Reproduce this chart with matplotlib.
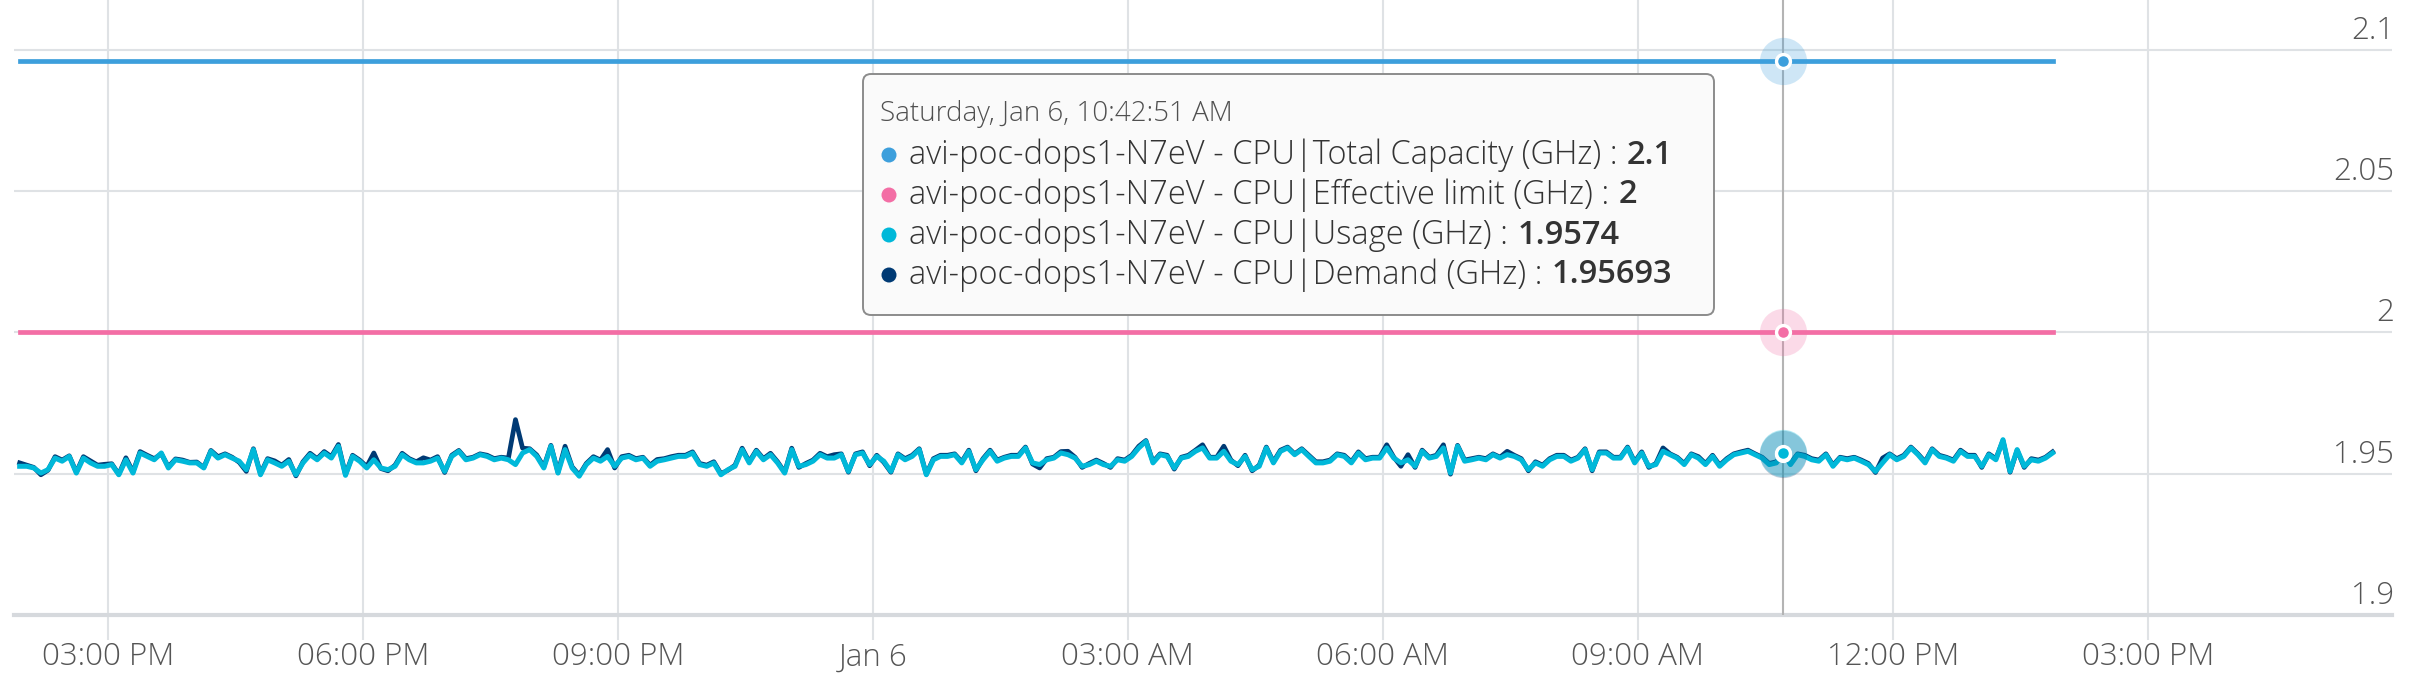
import matplotlib
matplotlib.use("Agg")
import matplotlib.pyplot as plt
import matplotlib.dates as mdates
import matplotlib.transforms as mtransforms
from matplotlib.patches import FancyBboxPatch, Circle
import numpy as np
import pandas as pd

plt.rcParams['font.family'] = ['Open Sans', 'DejaVu Sans']

# ---------------- data ----------------
start_time = "2024-01-05 13:57:51"
n_points = 288
interval = "5min"

usage_ghz = [
    1.9526,1.9526,1.9520,1.9502,1.9514,1.9555,1.9544,1.9561,1.9502,1.9555,1.9538,1.9526,1.9526,1.9532,1.9496,1.9549,1.9502,1.9573,1.9561,1.9549,1.9573,1.9520,1.9549,1.9544,1.9538,1.9538,1.9520,1.9579,1.9555,1.9567,1.9555,1.9544,1.9514,1.9585,1.9496,1.9549,1.9538,1.9526,1.9544,1.9496,1.9538,1.9567,1.9549,1.9573,1.9555,1.9597,1.9494,1.9561,1.9544,1.9520,1.9549,1.9520,1.9514,1.9526,1.9567,1.9549,1.9538,
    1.9538,1.9544,1.9555,1.9508,1.9561,1.9579,1.9549,1.9555,1.9567,1.9561,1.9549,1.9555,1.9549,1.9532,1.9573,1.9585,1.9561,1.9520,1.9597,1.9502,1.9585,1.9520,1.9491,1.9532,1.9555,1.9544,1.9561,1.9526,1.9555,1.9561,1.9549,1.9555,1.9526,1.9544,1.9549,1.9555,1.9561,1.9561,1.9573,1.9532,1.9526,1.9538,1.9496,1.9514,1.9526,1.9585,1.9538,1.9579,1.9549,1.9567,1.9538,1.9502,1.9585,1.9526,1.9532,1.9544,1.9567,1.9555,
    1.9555,1.9567,1.9508,1.9567,1.9573,1.9532,1.9561,1.9544,1.9508,1.9567,1.9549,1.9561,1.9585,1.9496,1.9549,1.9561,1.9561,1.9567,1.9538,1.9579,1.9514,1.9549,1.9579,1.9544,1.9555,1.9561,1.9561,1.9591,1.9538,1.9532,1.9549,1.9555,1.9573,1.9567,1.9555,1.9526,1.9532,1.9544,1.9532,1.9526,1.9549,1.9544,1.9561,1.9591,1.9614,1.9538,1.9567,1.9561,1.9520,1.9555,1.9561,1.9579,1.9591,1.9555,1.9555,1.9579,1.9544,1.9532,
    1.9561,1.9514,1.9526,1.9591,1.9538,1.9579,1.9591,1.9567,1.9585,1.9561,1.9538,1.9538,1.9544,1.9567,1.9561,1.9538,1.9573,1.9549,1.9555,1.9555,1.9591,1.9555,1.9538,1.9549,1.9526,1.9579,1.9555,1.9561,1.9591,1.9502,1.9597,1.9544,1.9549,1.9555,1.9549,1.9567,1.9555,1.9567,1.9561,1.9549,1.9514,1.9538,1.9526,1.9549,1.9561,1.9561,1.9544,1.9555,1.9585,1.9514,1.9573,1.9573,1.9555,1.9555,1.9591,1.9538,1.9573,1.9526,
    1.9532,1.9579,1.9567,1.9555,1.9532,1.9567,1.9555,1.9532,1.9561,1.9526,1.9549,1.9567,1.9573,1.9579,1.9567,1.9555,1.9532,1.9538,1.9574,1.9532,1.9567,1.9561,1.9549,1.9544,1.9567,1.9526,1.9555,1.9549,1.9555,1.9544,1.9532,1.9508,1.9538,1.9567,1.9549,1.9561,1.9591,1.9567,1.9538,1.9585,1.9561,1.9555,1.9544,1.9579,1.9561,1.9561,1.9526,1.9567,1.9549,1.9620,1.9508,1.9585,1.9526,1.9549,1.9544,1.9555,1.9573,
]

demand_ghz = [
    1.9538,1.9530,1.9522,1.9496,1.9512,1.9560,1.9548,1.9563,1.9505,1.9560,1.9545,1.9530,1.9533,1.9535,1.9498,1.9556,1.9506,1.9578,1.9565,1.9553,1.9570,1.9524,1.9552,1.9548,1.9540,1.9541,1.9522,1.9582,1.9560,1.9570,1.9558,1.9540,1.9508,1.9588,1.9500,1.9553,1.9545,1.9530,1.9550,1.9492,1.9542,1.9572,1.9553,1.9578,1.9560,1.9603,1.9497,1.9565,1.9548,1.9525,1.9573,1.9518,1.9510,1.9530,1.9572,1.9553,1.9542,
    1.9556,1.9548,1.9560,1.9504,1.9565,1.9582,1.9553,1.9558,1.9570,1.9565,1.9553,1.9558,1.9555,1.9691,1.9590,1.9588,1.9566,1.9524,1.9600,1.9505,1.9597,1.9524,1.9495,1.9536,1.9560,1.9548,1.9585,1.9520,1.9560,1.9565,1.9553,1.9558,1.9530,1.9550,1.9553,1.9560,1.9565,1.9565,1.9577,1.9536,1.9530,1.9542,1.9500,1.9512,1.9530,1.9590,1.9542,1.9583,1.9553,1.9572,1.9542,1.9505,1.9590,1.9522,1.9536,1.9548,1.9572,1.9560,
    1.9567,1.9570,1.9505,1.9570,1.9577,1.9528,1.9565,1.9540,1.9505,1.9570,1.9553,1.9565,1.9588,1.9498,1.9553,1.9565,1.9565,1.9570,1.9542,1.9583,1.9510,1.9553,1.9583,1.9548,1.9558,1.9565,1.9565,1.9594,1.9534,1.9520,1.9553,1.9558,1.9578,1.9579,1.9558,1.9522,1.9536,1.9548,1.9536,1.9522,1.9553,1.9548,1.9565,1.9597,1.9617,1.9542,1.9570,1.9565,1.9516,1.9558,1.9565,1.9583,1.9602,1.9558,1.9558,1.9597,1.9548,1.9528,
    1.9565,1.9510,1.9530,1.9594,1.9542,1.9583,1.9594,1.9570,1.9588,1.9565,1.9542,1.9542,1.9548,1.9570,1.9565,1.9542,1.9577,1.9553,1.9558,1.9558,1.9602,1.9558,1.9526,1.9567,1.9522,1.9583,1.9558,1.9565,1.9602,1.9498,1.9600,1.9548,1.9553,1.9558,1.9553,1.9570,1.9558,1.9579,1.9565,1.9553,1.9510,1.9542,1.9530,1.9553,1.9565,1.9565,1.9548,1.9558,1.9588,1.9510,1.9577,1.9577,1.9558,1.9558,1.9594,1.9542,1.9577,1.9522,
    1.9536,1.9591,1.9570,1.9558,1.9536,1.9570,1.9560,1.9536,1.9565,1.9530,1.9553,1.9570,1.9577,1.9583,1.9570,1.9558,1.9536,1.9542,1.95693,1.9536,1.9570,1.9565,1.9553,1.9548,1.9570,1.9530,1.9558,1.9553,1.9558,1.9548,1.9536,1.9504,1.9555,1.9570,1.9553,1.9565,1.9594,1.9570,1.9542,1.9588,1.9565,1.9558,1.9548,1.9583,1.9565,1.9565,1.9522,1.9570,1.9553,1.9617,1.9505,1.9583,1.9522,1.9553,1.9548,1.9558,1.9577,
]

total_capacity_ghz = 2.0958
effective_limit_ghz = 2.0

hover_index = 249
tooltip_header = "Saturday, Jan 6, 10:42:51 AM"
series_names = [
    "avi-poc-dops1-N7eV - CPU|Total Capacity (GHz)",
    "avi-poc-dops1-N7eV - CPU|Effective limit (GHz)",
    "avi-poc-dops1-N7eV - CPU|Usage (GHz)",
    "avi-poc-dops1-N7eV - CPU|Demand (GHz)",
]
tooltip_values = ["2.1", "2", "1.9574", "1.95693"]

y_ticks = [1.9, 1.95, 2.0, 2.05, 2.1]
y_tick_labels = ["1.9", "1.95", "2", "2.05", "2.1"]
x_tick_times = ["2024-01-05 15:00", "2024-01-05 18:00", "2024-01-05 21:00",
                "2024-01-06 00:00", "2024-01-06 03:00", "2024-01-06 06:00",
                "2024-01-06 09:00", "2024-01-06 12:00", "2024-01-06 15:00"]
x_tick_labels = ["03:00 PM", "06:00 PM", "09:00 PM", "Jan 6", "03:00 AM",
                 "06:00 AM", "09:00 AM", "12:00 PM", "03:00 PM"]

# ---------------- style ----------------
C_CAP = '#3d9fdc'
C_LIM = '#f36ea5'
C_USE = '#00b8d9'
C_DEM = '#003a74'
C_GRID = '#dfe2e5'
C_TXT = '#555555'
TICK_FS = 22.5

W, H = 2412, 688
fig = plt.figure(figsize=(W / 100, H / 100), dpi=100)
fig.patch.set_facecolor('white')

ax_left, ax_right, ax_bottom_px = 14, 2392, 615
ax = fig.add_axes([ax_left / W, (H - ax_bottom_px) / H,
                   (ax_right - ax_left) / W, ax_bottom_px / H])
for s in ax.spines.values():
    s.set_visible(False)

times = pd.date_range(start_time, periods=n_points, freq=interval)
x = mdates.date2num(times.to_pydatetime())
tick_x = mdates.date2num(pd.to_datetime(x_tick_times).to_pydatetime())

# x mapping: first tick at px 107.7, last tick at px 2147.7
per_px = (tick_x[-1] - tick_x[0]) / (2147.7 - 107.7)
ax.set_xlim(tick_x[0] - (107.7 - ax_left) * per_px,
            tick_x[0] + (ax_right - 107.7) * per_px)
# y mapping: 1.9 at px 615, 2.1 at px 49.5
px_per_unit = (615 - 49.5) / 0.2
ax.set_ylim(1.9, 1.9 + ax_bottom_px / px_per_unit)

ax.set_yticks(y_ticks)
ax.set_yticklabels([])
ax.tick_params(axis='y', length=0)
ax.set_xticks(tick_x)
ax.set_xticklabels(x_tick_labels, fontweight='light')
ax.tick_params(axis='x', length=18, width=1.5, color=C_GRID, pad=1,
               labelsize=TICK_FS, labelcolor=C_TXT)
ax.grid(True, color=C_GRID, lw=1.5)
ax.set_axisbelow(True)
ax.axhline(1.9, color='#d6d9dd', lw=3, zorder=1, clip_on=False)

off = mtransforms.ScaledTranslation(0.02, 0.19, fig.dpi_scale_trans)
trans = mtransforms.blended_transform_factory(ax.transAxes, ax.transData) + off
for v, lab in zip(y_ticks, y_tick_labels):
    ax.text(1.0, v, lab, transform=trans, ha='right', va='center',
            fontsize=TICK_FS, color=C_TXT, fontweight='light')

n = len(x)
ax.plot(x, np.full(n, total_capacity_ghz), color=C_CAP, lw=3.4, zorder=3)
ax.plot(x, np.full(n, effective_limit_ghz), color=C_LIM, lw=3.4, zorder=3)
ax.plot(x, demand_ghz, color=C_DEM, lw=3.4, zorder=4)
ax.plot(x, usage_ghz, color=C_USE, lw=3.6, zorder=5)

# hover
hx = x[hover_index]
ax.axvline(hx, color='#b4b4b4', lw=1.5, zorder=2)
hover_pts = [(total_capacity_ghz, C_CAP, 0.25), (effective_limit_ghz, C_LIM, 0.25),
             (demand_ghz[hover_index], C_DEM, 0.25), (usage_ghz[hover_index], C_USE, 0.3)]
for yv, c, a in hover_pts:
    ax.plot([hx], [yv], 'o', ms=34, color=c, alpha=a, mec='none', zorder=6)
for yv, c, a in hover_pts:
    ax.plot([hx], [yv], 'o', ms=10, mfc=c, mec='white', mew=2.4, zorder=7)

# tooltip
ident = mtransforms.IdentityTransform()
bx0, by0, bx1, by1 = 863, 74, 1714, 315
box = FancyBboxPatch((bx0, H - by1), bx1 - bx0, by1 - by0,
                     boxstyle="round,pad=0,rounding_size=8", transform=ident,
                     fc='#fafafa', ec='#8c8c8c', lw=1.4, zorder=10)
fig.patches.append(box)
fig.text(880 / W, 1 - 114 / H, tooltip_header, fontsize=20, va='center',
         color='#505050', zorder=11, fontweight='light')
renderer = fig.canvas.get_renderer()
colors = [C_CAP, C_LIM, C_USE, C_DEM]
for k, (name, val, c) in enumerate(zip(series_names, tooltip_values, colors)):
    yc = 155 + 40 * k
    dot = Circle((889, H - yc), 7.5, transform=ident, fc=c, ec='none', zorder=11)
    fig.patches.append(dot)
    t = fig.text(909 / W, 1 - yc / H, name + " : ", fontsize=23.5, va='center',
                 color='#333333', zorder=11, fontweight='light')
    ext = t.get_window_extent(renderer)
    fig.text((ext.x1 + 1) / W, 1 - yc / H, val, fontsize=23.5, va='center',
             fontweight='semibold', color='#333333', zorder=11)

fig.savefig("out.png", dpi=100, facecolor='white')
